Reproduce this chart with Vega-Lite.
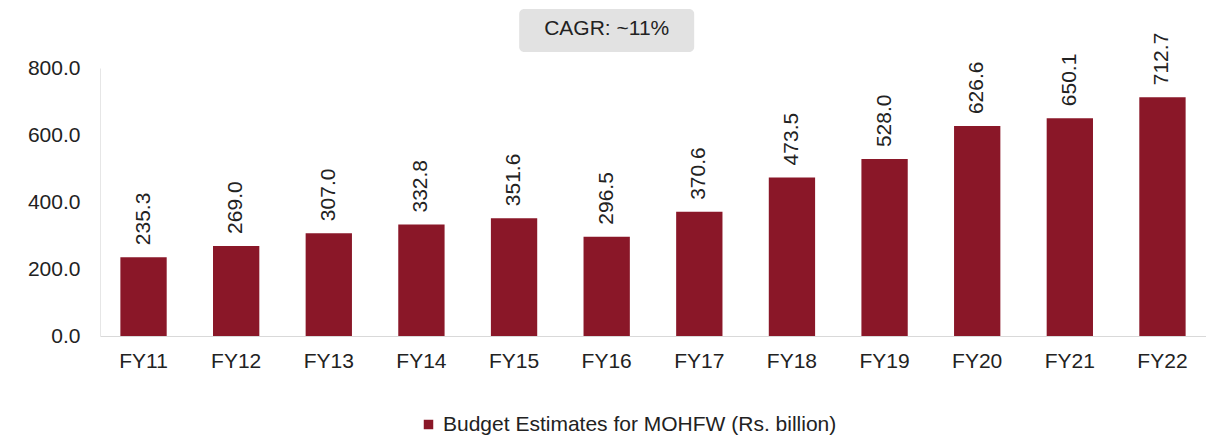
{
  "$schema": "https://vega.github.io/schema/vega-lite/v6.json",
  "autosize": "none",
  "width": 1106,
  "height": 268,
  "padding": {"left": 100, "top": 68, "right": 0, "bottom": 105},
  "background": "white",
  "config": {
    "view": {"stroke": null},
    "font": "Liberation Sans",
    "axis": {"labelFont": "Liberation Sans", "labelFontSize": 21, "labelColor": "#222222", "grid": false, "ticks": false, "title": null},
    "legend": {"labelFont": "Liberation Sans", "labelFontSize": 21, "labelColor": "#222222"}
  },
  "data": {
    "values": [
      {"year": "FY11", "value": 235.3},
      {"year": "FY12", "value": 269.0},
      {"year": "FY13", "value": 307.0},
      {"year": "FY14", "value": 332.8},
      {"year": "FY15", "value": 351.6},
      {"year": "FY16", "value": 296.5},
      {"year": "FY17", "value": 370.6},
      {"year": "FY18", "value": 473.5},
      {"year": "FY19", "value": 528.0},
      {"year": "FY20", "value": 626.6},
      {"year": "FY21", "value": 650.1},
      {"year": "FY22", "value": 712.7}
    ]
  },
  "encoding": {
    "x": {
      "field": "year", "type": "nominal", "sort": null,
      "scale": {"domain": ["FY11", "FY12", "FY13", "FY14", "FY15", "FY16", "FY17", "FY18", "FY19", "FY20", "FY21", "FY22"], "paddingInner": 0.5, "paddingOuter": 0.22},
      "axis": {"labelAngle": 0, "labelPadding": 14, "domainColor": "#d9d9d9", "domainWidth": 1}
    }
  },
  "layer": [
    {
      "data": {"values": [{}]},
      "mark": {"type": "bar", "width": 175, "cornerRadius": 5, "color": "#e2e2e2"},
      "encoding": {
        "x": {"datum": "FY16"},
        "y": {"datum": 848, "type": "quantitative"},
        "y2": {"datum": 976}
      }
    },
    {
      "data": {"values": [{}]},
      "mark": {"type": "text", "fontSize": 21, "color": "#222222"},
      "encoding": {
        "x": {"datum": "FY16"},
        "y": {"datum": 915, "type": "quantitative"},
        "text": {"value": "CAGR: ~11%"}
      }
    },
    {
      "mark": {"type": "bar"},
      "encoding": {
        "y": {
          "field": "value", "type": "quantitative",
          "scale": {"domain": [0, 800], "nice": false},
          "axis": {"values": [0, 200, 400, 600, 800], "format": ".1f", "labelPadding": 20, "domainColor": "#e6e6e6"}
        },
        "color": {
          "datum": "Budget Estimates for MOHFW (Rs. billion)",
          "scale": {"range": ["#8a1728"]},
          "legend": {"title": null, "orient": "none", "legendX": 318, "legendY": 346, "direction": "horizontal", "symbolType": "square", "symbolSize": 90, "labelFontSize": 21, "labelLimit": 0, "labelOffset": 4}
        }
      }
    },
    {
      "mark": {"type": "text", "angle": 270, "align": "left", "baseline": "middle", "dx": 12, "fontSize": 21, "color": "#222222"},
      "encoding": {
        "y": {"field": "value", "type": "quantitative"},
        "text": {"field": "value", "type": "quantitative", "format": ".1f"}
      }
    }
  ]
}
